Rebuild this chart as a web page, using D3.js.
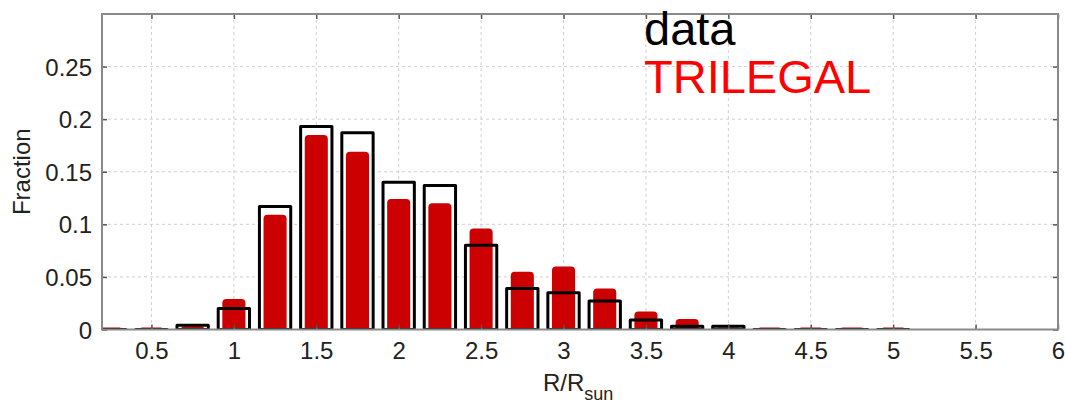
<!DOCTYPE html>
<html>
<head>
<meta charset="utf-8">
<script src="https://cdn.jsdelivr.net/npm/d3@7"></script>
<style>
  html, body { margin: 0; padding: 0; background: #fff; }
  svg { display: block; font-family: "Liberation Sans", Arial, sans-serif; }
</style>
</head>
<body>
<svg id="chart" width="1065" height="404"></svg>
<script>
// Radius bins (R/Rsun), bin centres
const binCenters = [0.25, 0.5, 0.75, 1.0, 1.25, 1.5, 1.75, 2.0, 2.25, 2.5, 2.75, 3.0,
                    3.25, 3.5, 3.75, 4.0, 4.25, 4.5, 4.75, 5.0];
// Observed fraction per bin
const dataFrac = [0, 0, 0.004, 0.02, 0.117, 0.193, 0.187, 0.140, 0.137, 0.080, 0.039, 0.035,
                  0.027, 0.009, 0.003, 0.003, 0, 0, 0, 0];
// TRILEGAL model fraction per bin
const trilegalFrac = [0.002, 0.002, 0.003, 0.029, 0.109, 0.185, 0.169, 0.124, 0.120, 0.096, 0.055, 0.060,
                      0.039, 0.017, 0.010, 0.002, 0.002, 0.002, 0.002, 0.002];
const xTicks = [0.5, 1, 1.5, 2, 2.5, 3, 3.5, 4, 4.5, 5, 5.5, 6];
const yTicks = [0, 0.05, 0.1, 0.15, 0.2, 0.25];
const legendLabels = ["data", "TRILEGAL"];

const W = 1065, H = 404;
const margin = { left: 102, right: 7, top: 14, bottom: 74.5 };
const pw = W - margin.left - margin.right;
const ph = H - margin.top - margin.bottom;

const svg = d3.select("#chart");
const g = svg.append("g").attr("transform", `translate(${margin.left},${margin.top})`);

const x = d3.scaleLinear().domain([0.2, 6]).range([0, pw]);
const y = d3.scaleLinear().domain([0, 0.3]).range([ph, 0]);

svg.append("defs").append("clipPath").attr("id", "plotClip")
  .append("rect").attr("x", 0).attr("y", 0).attr("width", pw).attr("height", ph);

// dashed grid
const grid = g.append("g");
grid.selectAll("line.gx").data(xTicks.filter(t => t < 6)).join("line")
  .attr("x1", d => x(d)).attr("x2", d => x(d)).attr("y1", 0).attr("y2", ph)
  .attr("stroke", "#d0d0d0").attr("stroke-width", 1).attr("stroke-dasharray", "3,3");
grid.selectAll("line.gy").data(yTicks.filter(t => t > 0)).join("line")
  .attr("x1", 0).attr("x2", pw).attr("y1", d => y(d)).attr("y2", d => y(d))
  .attr("stroke", "#d0d0d0").attr("stroke-width", 1).attr("stroke-dasharray", "3,3");

const bars = g.append("g").attr("clip-path", "url(#plotClip)");
const boxW = 0.19, redW = 0.14;
const rows = binCenters.map((c, i) => ({ c, d: dataFrac[i], t: trilegalFrac[i] }));

// white box backgrounds for the observed histogram
bars.selectAll("rect.bg").data(rows).join("rect")
  .attr("x", d => x(d.c - boxW / 2)).attr("width", x(boxW) - x(0))
  .attr("y", d => y(d.d)).attr("height", d => y(0) - y(d.d))
  .attr("fill", "#fff");

// TRILEGAL bars with rounded tops
function roundedTop(d) {
  const x0 = x(d.c - redW / 2), x1 = x(d.c + redW / 2);
  const yt = y(d.t), yb = y(0);
  const r = Math.min(4, (yb - yt), (x1 - x0) / 2);
  return `M${x0},${yb}V${yt + r}Q${x0},${yt} ${x0 + r},${yt}H${x1 - r}Q${x1},${yt} ${x1},${yt + r}V${yb}Z`;
}
bars.selectAll("path.red").data(rows).join("path")
  .attr("d", roundedTop).attr("fill", "#cc0000");

// observed histogram outlines (empty bins still show a line at zero)
function boxPath(d) {
  const x0 = x(d.c - boxW / 2), x1 = x(d.c + boxW / 2);
  const yt = y(d.d), yb = y(0);
  return `M${x0},${yb}V${yt}H${x1}V${yb}Z`;
}
bars.selectAll("path.box").data(rows).join("path")
  .attr("d", boxPath)
  .attr("fill", "none").attr("stroke", "#000").attr("stroke-width", 3)
  .attr("stroke-linejoin", "round");

// axes: inward ticks on all sides
const tickColor = "#555";
const axisFont = "24px";
const xb = g.append("g").attr("transform", `translate(0,${ph})`)
  .call(d3.axisBottom(x).tickValues(xTicks).tickSize(-5).tickPadding(12).tickFormat(d3.format("")));
const xt = g.append("g")
  .call(d3.axisTop(x).tickValues(xTicks).tickSize(-5).tickFormat(""));
const yl = g.append("g")
  .call(d3.axisLeft(y).tickValues(yTicks).tickSize(-5).tickPadding(10).tickFormat(d3.format("")));
const yr = g.append("g").attr("transform", `translate(${pw},0)`)
  .call(d3.axisRight(y).tickValues(yTicks).tickSize(-5).tickFormat(""));
[xb, xt, yl, yr].forEach(a => {
  a.select(".domain").remove();
  a.selectAll(".tick line").attr("stroke", tickColor).attr("stroke-width", 1.5);
  a.selectAll("text").attr("fill", "#222").style("font-size", axisFont)
    .style("font-family", "'Liberation Sans', Arial, sans-serif");
});
yl.selectAll("text").attr("dy", "0.36em");

// frame
g.append("rect").attr("x", 0).attr("y", 0).attr("width", pw).attr("height", ph)
  .attr("fill", "none").attr("stroke", "#8a8a8a").attr("stroke-width", 2);

// axis titles
svg.append("text")
  .attr("transform", `translate(30,${margin.top + y(0.15)}) rotate(-90)`)
  .attr("text-anchor", "middle").attr("fill", "#222").style("font-size", "24px")
  .text("Fraction");
const xl = svg.append("text")
  .attr("x", 543).attr("y", 391).attr("fill", "#222").style("font-size", "24px");
xl.append("tspan").text("R/R");
xl.append("tspan").attr("dy", 9).style("font-size", "18px").text("sun");

// legend
const legColors = ["#000", "#ff0000"];
svg.selectAll("text.leg").data(legendLabels).join("text")
  .attr("x", 644).attr("y", (d, i) => 45 + i * 48)
  .attr("fill", (d, i) => legColors[i]).style("font-size", "47px")
  .text(d => d);
</script>
</body>
</html>
